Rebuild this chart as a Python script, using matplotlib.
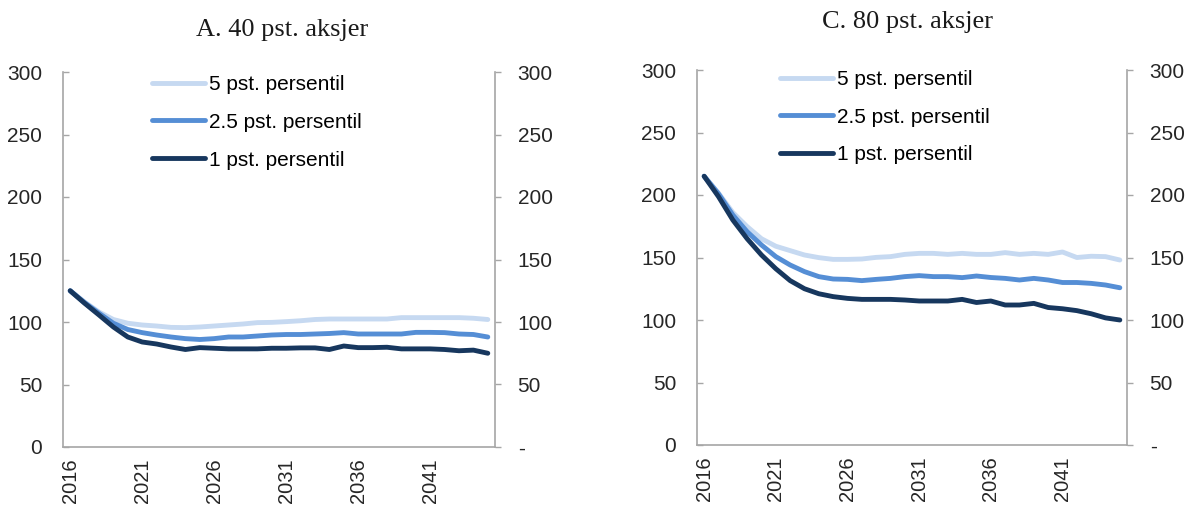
import matplotlib
matplotlib.use("Agg")
import matplotlib.pyplot as plt

# categories
years = list(range(2016, 2046))
xtick_years = [2016, 2021, 2026, 2031, 2036, 2041]
yticks = [0, 50, 100, 150, 200, 250, 300]
right_labels = ["-", "50", "100", "150", "200", "250", "300"]
series_names = ["5 pst. persentil", "2.5 pst. persentil", "1 pst. persentil"]

# A. 40 pst. aksjer
p5_a = [125, 116, 108, 102, 99, 97.6, 96.8, 95.7, 95.5, 96, 96.8, 97.6, 98.4, 99.5, 99.7,
        100.3, 101, 102, 102.4, 102.4, 102.4, 102.4, 102.4, 103.5, 103.5, 103.5, 103.5,
        103.5, 103, 102]
p25_a = [125, 115.5, 107, 99, 94, 91.5, 89.6, 88, 86.7, 86, 86.7, 88, 88, 88.8, 89.6,
         90, 90, 90.4, 90.8, 91.5, 90.4, 90.4, 90.4, 90.4, 91.7, 91.7, 91.5, 90.4, 90, 88]
p1_a = [125, 115, 105.6, 96, 88, 84, 82.4, 80, 78, 79.5, 79, 78.5, 78.5, 78.5, 79,
        79, 79.3, 79.3, 78, 80.8, 79.5, 79.5, 79.8, 78.5, 78.5, 78.5, 78, 77, 77.5, 75]

# C. 80 pst. aksjer
p5_c = [215, 201.5, 186, 174.7, 165, 159, 155.5, 152, 149.9, 148.5, 148.5, 148.8, 150.1,
        150.7, 152.5, 153.3, 153.3, 152.5, 153.3, 152.5, 152.5, 153.9, 152.5, 153.3,
        152.5, 154.4, 150, 151, 150.7, 148]
p25_c = [215, 201, 184, 170.6, 160, 150.7, 144, 138.7, 134.7, 132.8, 132.5, 131.5, 132.5,
         133.3, 134.7, 135.5, 134.7, 134.7, 133.9, 135.2, 134, 133.3, 132, 133.3, 132,
         130, 130, 129.3, 128, 125.8]
p1_c = [215, 198.7, 180, 165, 152, 141, 131.5, 125, 121, 118.7, 117.3, 116.5, 116.5,
        116.5, 116, 115.2, 115.2, 115.2, 116.5, 114, 115.2, 112, 112, 113.3, 110, 109,
        107.5, 105, 101.7, 100]

colors = ["#c6d9f1", "#558ed5", "#17375e"]
spine_col = "#a6a6a6"
W, H = 1187, 507

plt.rcParams["font.family"] = ["Liberation Sans", "DejaVu Sans"]

fig = plt.figure(figsize=(W / 100, H / 100), dpi=100)


def make_panel(rect, data, title, title_xy, legend_xy):
    ax = fig.add_axes(rect)
    for vals, name, c in zip(data, series_names, colors):
        ax.plot(years, vals, color=c, lw=3.5, label=name, solid_capstyle="round")
    ax.set_xlim(2015.5, 2045.5)
    ax.set_ylim(0, 300)
    ax.set_yticks(yticks)
    ax.set_yticklabels([str(v) for v in yticks])
    ax.set_xticks(xtick_years)
    ax.set_xticklabels([str(y) for y in xtick_years], rotation=90, va="top", ha="center")
    ax.tick_params(axis="x", length=0, pad=8, labelsize=14.5, labelcolor="#262626")
    ax.tick_params(axis="y", direction="in", length=4.3, width=1, color=spine_col,
                   pad=15, labelsize=15, labelcolor="#262626")
    for side in ["top", "right"]:
        ax.spines[side].set_visible(False)
    for side in ["left", "bottom"]:
        ax.spines[side].set_color(spine_col)
        ax.spines[side].set_linewidth(1.2)

    axr = ax.twinx()
    axr.set_ylim(0, 300)
    axr.set_yticks(yticks)
    axr.set_yticklabels(right_labels)
    axr.tick_params(axis="y", direction="out", length=4.3, width=1, color=spine_col,
                    pad=12, labelsize=15, labelcolor="#262626")
    for side in ["top", "left", "bottom"]:
        axr.spines[side].set_visible(False)
    axr.spines["right"].set_color(spine_col)
    axr.spines["right"].set_linewidth(1.2)

    fig.text(title_xy[0] / W, 1 - title_xy[1] / H, title, ha="center", va="center",
             fontsize=19, family=["Liberation Serif", "DejaVu Serif"], color="#1a1a1a")

    ax.legend(loc="upper left", bbox_to_anchor=(legend_xy[0] / W, 1 - legend_xy[1] / H),
              bbox_transform=fig.transFigure, frameon=False, fontsize=15,
              handlelength=2.55, handletextpad=0.2, labelspacing=0.9,
              borderpad=0, borderaxespad=0)
    return ax


make_panel([63 / W, 1 - 447 / H, 432 / W, 375 / H], [p5_a, p25_a, p1_a],
           "A. 40 pst. aksjer", (282, 30), (152, 75))
make_panel([697 / W, 1 - 445 / H, 430 / W, 375 / H], [p5_c, p25_c, p1_c],
           "C. 80 pst. aksjer", (908, 22), (780, 70))

fig.savefig("out.png", dpi=100)
